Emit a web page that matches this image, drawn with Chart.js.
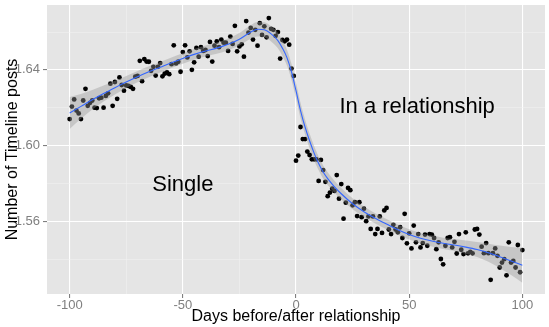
<!DOCTYPE html>
<html>
<head>
<meta charset="utf-8">
<script src="https://cdn.jsdelivr.net/npm/chart.js@4.4.1/dist/chart.umd.min.js"></script>
<style>
  html, body { margin: 0; padding: 0; background: #fff; }
  #wrap { width: 549px; height: 327px; }
</style>
</head>
<body>
<div id="wrap"><canvas id="myChart" width="549" height="327"></canvas></div>
<script>
// Mean timeline posts per day, from 100 days before to 100 days after
const firstDay = -100;
const posts = [
  1.6140, 1.6206, 1.6244, 1.6185, 1.6170, 1.6140, 1.6238, 1.6300, 1.6210, 1.6226,
  1.6238, 1.6200, 1.6198, 1.6250, 1.6253, 1.6200, 1.6262, 1.6276, 1.6327, 1.6210,
  1.6336, 1.6247, 1.6360, 1.6320, 1.6290, 1.6318, 1.6315, 1.6310, 1.6300, 1.6364,
  1.6368, 1.6448, 1.6340, 1.6457, 1.6444, 1.6443, 1.6395, 1.6416, 1.6370, 1.6416,
  1.6436, 1.6366, 1.6380, 1.6386, 1.6377, 1.6430, 1.6530, 1.6434, 1.6443, 1.6390,
  1.6494, 1.6530, 1.6466, 1.6498, 1.6400, 1.6440, 1.6516, 1.6470, 1.6520, 1.6500,
  1.6505, 1.6473, 1.6548, 1.6444, 1.6528, 1.6550, 1.6520, 1.6560, 1.6544, 1.6544,
  1.6500, 1.6576, 1.6537, 1.6633, 1.6498, 1.6524, 1.6535, 1.6470, 1.6658, 1.6597,
  1.6622, 1.6560, 1.6612, 1.6528, 1.6647, 1.6585, 1.6630, 1.6572, 1.6674, 1.6617,
  1.6612, 1.6580, 1.6600, 1.6460, 1.6558, 1.6551, 1.6560, 1.6533, 1.6407, 1.6368,
  1.5920, 1.5947, 1.6098, 1.6034, 1.6034, 1.5968, 1.5950, 1.5927, 1.5927, 1.5927,
  1.5813, 1.5924, 1.5870, 1.5808, 1.5732, 1.5751, 1.5772, 1.5760, 1.5844, 1.5719,
  1.5796, 1.5613, 1.5698, 1.5776, 1.5764, 1.5684, 1.5700, 1.5627, 1.5700, 1.5621,
  1.5666, 1.5600, 1.5625, 1.5559, 1.5625, 1.5532, 1.5559, 1.5625, 1.5538, 1.5657,
  1.5670, 1.5556, 1.5532, 1.5581, 1.5556, 1.5541, 1.5568, 1.5511, 1.5639, 1.5483,
  1.5536, 1.5456, 1.5577, 1.5488, 1.5532, 1.5461, 1.5484, 1.5529, 1.5470, 1.5532,
  1.5529, 1.5511, 1.5452, 1.5488, 1.5400, 1.5372, 1.5470, 1.5511, 1.5515, 1.5461,
  1.5491, 1.5429, 1.5532, 1.5449, 1.5426, 1.5541, 1.5430, 1.5438, 1.5430, 1.5556,
  1.5559, 1.5529, 1.5465, 1.5431, 1.5484, 1.5431, 1.5290, 1.5431, 1.5456, 1.5417,
  1.5355, 1.5381, 1.5399, 1.5314, 1.5488, 1.5381, 1.5390, 1.5355, 1.5474, 1.5330,
  1.5447
];
const days = posts.map((_, i) => firstDay + i);

// Loess fit and its confidence band
const fitDays = [-100, -95, -90, -85, -80, -75, -70, -65, -60, -55, -50, -45, -40, -35, -30, -25,
  -20, -17, -14, -11, -8, -6, -4, -2, 0, 2, 4, 6, 8, 10, 12, 14, 17, 20, 25, 30, 35, 40, 45,
  50, 55, 60, 65, 70, 75, 80, 85, 90, 95, 100];
const fitValues = [1.6172, 1.6207, 1.6242, 1.6275, 1.6306, 1.6336, 1.6364, 1.6390, 1.6414, 1.6438,
  1.6460, 1.6482, 1.6500, 1.6515, 1.6535, 1.6562, 1.6600, 1.6615, 1.6612, 1.6590, 1.6555, 1.6515,
  1.6465, 1.6390, 1.6290, 1.6185, 1.6098, 1.6025, 1.5960, 1.5905, 1.5860, 1.5825, 1.5782, 1.5745,
  1.5692, 1.5650, 1.5615, 1.5585, 1.5555, 1.5530, 1.5510, 1.5495, 1.5483, 1.5474, 1.5463, 1.5450,
  1.5433, 1.5412, 1.5390, 1.5367];
const fitUpper = [1.6257, 1.6273, 1.6294, 1.6317, 1.6342, 1.6368, 1.6394, 1.6419, 1.6442, 1.6466,
  1.6488, 1.6510, 1.6529, 1.6545, 1.6566, 1.6595, 1.6636, 1.6653, 1.6652, 1.6630, 1.6596, 1.6556,
  1.6507, 1.6432, 1.6332, 1.6226, 1.6138, 1.6064, 1.5998, 1.5941, 1.5895, 1.5859, 1.5814, 1.5776,
  1.5721, 1.5678, 1.5642, 1.5612, 1.5582, 1.5557, 1.5538, 1.5524, 1.5513, 1.5506, 1.5498, 1.5490,
  1.5481, 1.5471, 1.5464, 1.5459];
const fitLower = [1.6087, 1.6141, 1.6190, 1.6233, 1.6270, 1.6304, 1.6334, 1.6361, 1.6386, 1.6410,
  1.6432, 1.6454, 1.6471, 1.6485, 1.6504, 1.6529, 1.6564, 1.6577, 1.6572, 1.6550, 1.6514, 1.6474,
  1.6423, 1.6348, 1.6248, 1.6144, 1.6058, 1.5986, 1.5922, 1.5869, 1.5825, 1.5791, 1.5750, 1.5714,
  1.5663, 1.5622, 1.5588, 1.5558, 1.5528, 1.5503, 1.5482, 1.5466, 1.5453, 1.5442, 1.5428, 1.5410,
  1.5385, 1.5353, 1.5316, 1.5275];

// Axis ticks (labelled ones get a white major grid line)
const xTicks = [-100, -75, -50, -25, 0, 25, 50, 75, 100];
const xLabelled = [-100, -50, 0, 50, 100];
const yTicks = [1.54, 1.56, 1.58, 1.60, 1.62, 1.64, 1.66];
const yLabelled = ['1.56', '1.60', '1.64'];

// Text placed inside the panel
const notes = [
  { text: 'Single', x: -50, y: 1.5792 },
  { text: 'In a relationship', x: 53.5, y: 1.6203 }
];

const FONT = '"Liberation Sans", Arial, Helvetica, sans-serif';

const toPoints = (xs, ys) => xs.map((x, i) => ({ x: x, y: ys[i] }));

const isMajorX = v => xLabelled.includes(v);
const isMajorY = v => yLabelled.includes(v.toFixed(2));

// grey panel behind everything + the two text notes on top
const panelPlugin = {
  id: 'panel',
  beforeDraw(chart) {
    const { ctx, chartArea: a } = chart;
    ctx.save();
    ctx.fillStyle = '#E5E5E5';
    ctx.fillRect(a.left, a.top, a.right - a.left, a.bottom - a.top);
    ctx.restore();
  },
  afterDatasetsDraw(chart) {
    const { ctx, scales } = chart;
    ctx.save();
    ctx.fillStyle = '#000';
    ctx.font = '22px ' + FONT;
    ctx.textAlign = 'center';
    ctx.textBaseline = 'middle';
    notes.forEach(n => {
      ctx.fillText(n.text, scales.x.getPixelForValue(n.x), scales.y.getPixelForValue(n.y));
    });
    ctx.restore();
  }
};

const ctx = document.getElementById('myChart').getContext('2d');
new Chart(ctx, {
  data: {
    datasets: [
      {
        type: 'scatter',
        data: toPoints(days, posts),
        backgroundColor: '#000',
        borderWidth: 0,
        pointRadius: 2.4,
        order: 3
      },
      {
        type: 'line',
        data: toPoints(fitDays, fitUpper),
        borderWidth: 0,
        pointRadius: 0,
        cubicInterpolationMode: 'monotone',
        backgroundColor: 'rgba(153,153,153,0.4)',
        fill: '+1',
        order: 2
      },
      {
        type: 'line',
        data: toPoints(fitDays, fitLower),
        borderWidth: 0,
        pointRadius: 0,
        cubicInterpolationMode: 'monotone',
        fill: false,
        order: 2
      },
      {
        type: 'line',
        data: toPoints(fitDays, fitValues),
        borderColor: '#3366FF',
        borderWidth: 1.1,
        pointRadius: 0,
        cubicInterpolationMode: 'monotone',
        fill: false,
        order: 1
      }
    ]
  },
  options: {
    responsive: false,
    animation: false,
    layout: { padding: { top: 5, right: 3, left: 0, bottom: 0 } },
    plugins: {
      legend: { display: false },
      tooltip: { enabled: false }
    },
    scales: {
      x: {
        type: 'linear',
        min: -110,
        max: 110,
        afterBuildTicks: s => { s.ticks = xTicks.map(v => ({ value: v })); },
        afterFit: s => { s.height = 33; s.paddingLeft = 0; s.paddingRight = 0; },
        ticks: {
          autoSkip: false,
          maxRotation: 0,
          padding: 0,
          color: '#7F7F7F',
          font: { family: FONT, size: 13 },
          callback: v => isMajorX(v) ? String(v) : ''
        },
        grid: {
          color: c => isMajorX(c.tick.value) ? '#FFFFFF' : '#F2F2F2',
          lineWidth: c => isMajorX(c.tick.value) ? 1.1 : 0.5,
          tickColor: c => isMajorX(c.tick.value) ? '#7F7F7F' : 'rgba(0,0,0,0)',
          tickLength: 4
        },
        border: { display: false },
        title: {
          display: true,
          text: 'Days before/after relationship',
          color: '#000',
          font: { family: FONT, size: 16 },
          padding: { top: 0, bottom: 1 }
        }
      },
      y: {
        type: 'linear',
        min: 1.5215,
        max: 1.6743,
        afterBuildTicks: s => { s.ticks = yTicks.map(v => ({ value: v })); },
        afterFit: s => { s.width = 47; s.paddingTop = 0; s.paddingBottom = 0; },
        ticks: {
          padding: 3,
          color: '#7F7F7F',
          font: { family: FONT, size: 13 },
          callback: v => isMajorY(v) ? v.toFixed(2) : ''
        },
        grid: {
          color: c => isMajorY(c.tick.value) ? '#FFFFFF' : '#F2F2F2',
          lineWidth: c => isMajorY(c.tick.value) ? 1.1 : 0.5,
          tickColor: c => isMajorY(c.tick.value) ? '#7F7F7F' : 'rgba(0,0,0,0)',
          tickLength: 4
        },
        border: { display: false },
        title: {
          display: true,
          text: 'Number of Timeline posts',
          color: '#000',
          font: { family: FONT, size: 16 },
          padding: { top: 3, bottom: 0 }
        }
      }
    }
  },
  plugins: [panelPlugin]
});
</script>
</body>
</html>
